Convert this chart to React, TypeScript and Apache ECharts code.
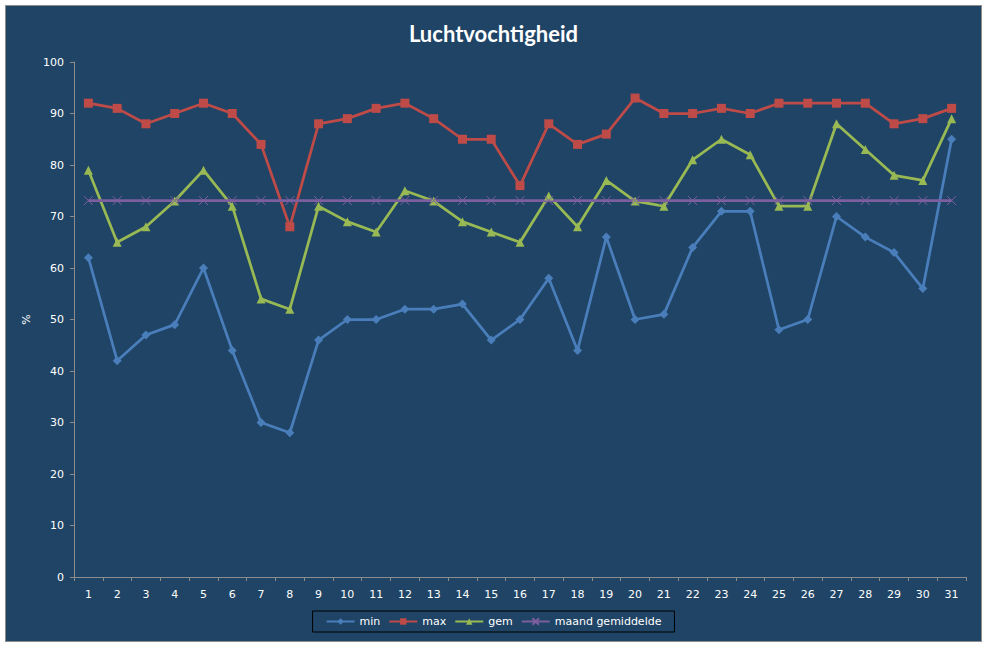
import React, { useEffect, useRef } from 'react';
import * as echarts from 'echarts';

const days = ['1', '2', '3', '4', '5', '6', '7', '8', '9', '10', '11', '12', '13', '14', '15', '16', '17', '18', '19', '20', '21', '22', '23', '24', '25', '26', '27', '28', '29', '30', '31'];
const minValues = [62, 42, 47, 49, 60, 44, 30, 28, 46, 50, 50, 52, 52, 53, 46, 50, 58, 44, 66, 50, 51, 64, 71, 71, 48, 50, 70, 66, 63, 56, 85];
const maxValues = [92, 91, 88, 90, 92, 90, 84, 68, 88, 89, 91, 92, 89, 85, 85, 76, 88, 84, 86, 93, 90, 90, 91, 90, 92, 92, 92, 92, 88, 89, 91];
const gemValues = [79, 65, 68, 73, 79, 72, 54, 52, 72, 69, 67, 75, 73, 69, 67, 65, 74, 68, 77, 73, 72, 81, 85, 82, 72, 72, 88, 83, 78, 77, 89];
const maandGemiddelde = 73.1;
const avgValues = days.map(() => maandGemiddelde);

const axisColor = '#8c8c8c';
const labelColor = '#ffffff';
const crossSymbol = 'path://M0,0L10,10M10,0L0,10';

const App: React.FC = () => {
  const chartRef = useRef<HTMLDivElement>(null);

  useEffect(() => {
    if (!chartRef.current) return;
    const chart = echarts.init(chartRef.current, undefined, { renderer: 'svg' });

    const option: echarts.EChartsOption = {
      animation: false,
      backgroundColor: '#1f4465',
      title: {
        text: 'Luchtvochtigheid',
        left: 'center',
        top: 11,
        textStyle: {
          color: '#ffffff',
          fontFamily: 'Lato',
          fontWeight: 'bold',
          fontSize: 22,
        },
      },
      legend: {
        left: 'center',
        top: 605,
        padding: [5, 13],
        borderColor: '#000000',
        borderWidth: 1,
        itemGap: 8,
        itemWidth: 28,
        itemHeight: 8,
        textStyle: {
          color: labelColor,
          fontFamily: 'DejaVu Sans',
          fontSize: 11,
        },
        data: ['min', 'max', 'gem', 'maand gemiddelde'],
      },
      grid: {
        left: 68,
        right: 15,
        top: 56,
        bottom: 64,
      },
      xAxis: {
        type: 'category',
        data: days,
        boundaryGap: true,
        axisLine: { lineStyle: { color: axisColor } },
        axisTick: { show: true, length: 4, lineStyle: { color: axisColor } },
        axisLabel: {
          color: labelColor,
          fontFamily: 'DejaVu Sans',
          fontSize: 11,
          margin: 12,
          interval: 0,
        },
      },
      yAxis: {
        type: 'value',
        min: 0,
        max: 100,
        interval: 10,
        name: '%',
        nameLocation: 'middle',
        nameRotate: 90,
        nameGap: 40,
        nameTextStyle: { color: labelColor, fontFamily: 'DejaVu Sans', fontSize: 11 },
        axisLine: { show: true, lineStyle: { color: axisColor } },
        axisTick: { show: true, length: 4, lineStyle: { color: axisColor } },
        splitLine: { show: false },
        axisLabel: {
          color: labelColor,
          fontFamily: 'DejaVu Sans',
          fontSize: 11,
          margin: 10,
        },
      },
      series: [
        {
          name: 'min',
          type: 'line',
          data: minValues,
          symbol: 'diamond',
          symbolSize: 9,
          lineStyle: { color: '#4a7ebb', width: 2.75 },
          itemStyle: { color: '#4a7ebb' },
        },
        {
          name: 'max',
          type: 'line',
          data: maxValues,
          symbol: 'rect',
          symbolSize: 9,
          lineStyle: { color: '#be4b48', width: 2.75 },
          itemStyle: { color: '#be4b48' },
        },
        {
          name: 'gem',
          type: 'line',
          data: gemValues,
          symbol: 'triangle',
          symbolSize: 9,
          lineStyle: { color: '#98b954', width: 2.75 },
          itemStyle: { color: '#98b954' },
        },
        {
          name: 'maand gemiddelde',
          type: 'line',
          data: avgValues,
          symbol: crossSymbol,
          symbolSize: 9,
          lineStyle: { color: '#7d5fa0', width: 2.75 },
          itemStyle: { color: 'transparent', borderColor: '#7d5fa0', borderWidth: 1 },
        },
      ],
    };

    chart.setOption(option);

    return () => {
      chart.dispose();
    };
  }, []);

  return (
    <div
      style={{
        position: 'absolute',
        left: 5,
        top: 5,
        width: 975,
        height: 635,
        border: '1px solid #8c8c8c',
      }}
    >
      <div ref={chartRef} style={{ width: 975, height: 635 }} />
    </div>
  );
};

export default App;
